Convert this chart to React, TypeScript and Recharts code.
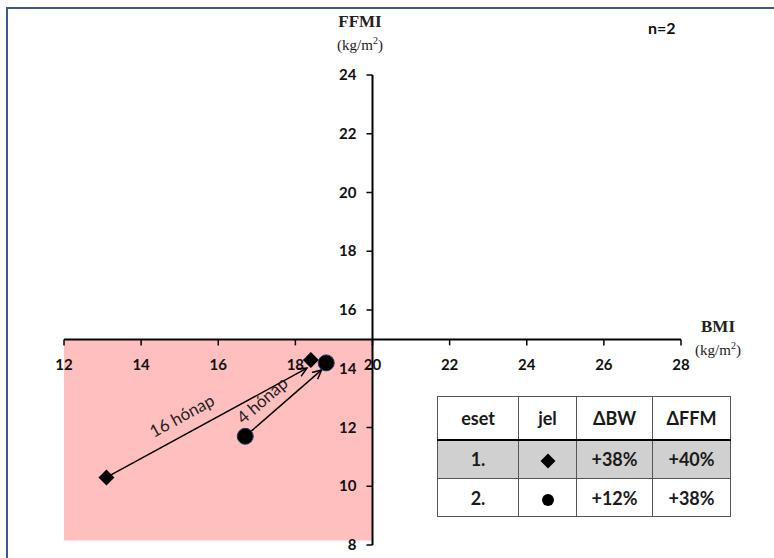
import React from 'react';
import {
  ScatterChart,
  Scatter,
  XAxis,
  YAxis,
  ReferenceLine,
  ReferenceArea,
} from 'recharts';

// tengelyek
const xTicks = [12, 14, 16, 18, 20, 22, 24, 26, 28];
const yTicks = [8, 10, 12, 14, 16, 18, 20, 22, 24];

// esetek: kiinduló és végpont (BMI, FFMI)
const case1 = [
  { x: 13.1, y: 10.3 },
  { x: 18.4, y: 14.3 },
];
const case2 = [
  { x: 16.7, y: 11.7 },
  { x: 18.8, y: 14.2 },
];

// nyilak a kezdőponttól a végpont felé
const arrowLabels = ['16 hónap', '4 hónap'];
const arrowFrom = [
  { x: 13.1, y: 10.3 },
  { x: 16.7, y: 11.7 },
];
const arrowTo = [
  { x: 18.3, y: 14.02 },
  { x: 18.68, y: 13.96 },
];

// táblázat
const tableHeader = ['eset', 'jel', 'ΔBW', 'ΔFFM'];
const tableCase = ['1.', '2.'];
const tableSymbol = ['diamond', 'circle'];
const tableBW = ['+38%', '+12%'];
const tableFFM = ['+40%', '+38%'];

const W = 774;
const H = 558;
const PLOT = { left: 64, top: 75, right: 681, bottom: 545 };
const X_AXIS_H = 13;
const Y_AXIS_W = 30;
const M = { top: PLOT.top, right: W - PLOT.right, bottom: H - PLOT.bottom - X_AXIS_H, left: PLOT.left - Y_AXIS_W };
const AXIS_X = PLOT.left + ((20 - 12) / 16) * (PLOT.right - PLOT.left);
const AXIS_Y = PLOT.top + ((24 - 15) / 16) * (PLOT.bottom - PLOT.top);

const tickFont = { fontFamily: 'Lato, "Open Sans", sans-serif', fontWeight: 700, fontSize: 15, fill: '#111' };

const XTick = (props: any) => {
  const { x, payload } = props;
  return (
    <g>
      <line x1={x} x2={x} y1={AXIS_Y} y2={AXIS_Y + 6} stroke="#000" strokeWidth={1.5} />
      <text x={x} y={AXIS_Y + 31} textAnchor="middle" {...tickFont}>
        {payload.value}
      </text>
    </g>
  );
};

const YTick = (props: any) => {
  const { y, payload } = props;
  return (
    <g>
      <line x1={AXIS_X - 6} x2={AXIS_X} y1={y} y2={y} stroke="#000" strokeWidth={1.5} />
      <text x={AXIS_X - 16} y={y + 5} textAnchor="end" {...tickFont}>
        {payload.value}
      </text>
    </g>
  );
};

const Diamond = (props: any) => {
  const { cx, cy } = props;
  const r = 8;
  return <polygon points={`${cx},${cy - r} ${cx + r},${cy} ${cx},${cy + r} ${cx - r},${cy}`} fill="#000" />;
};

const Dot = (props: any) => {
  const { cx, cy } = props;
  return <circle cx={cx} cy={cy} r={8} fill="#000" stroke="#1f3864" strokeWidth={1} />;
};

const makeArrow = (label: string, t: number, off: number) => (props: any) => {
  const { x1, y1, x2, y2 } = props;
  const ang = Math.atan2(y2 - y1, x2 - x1);
  const len = 10;
  const spread = 0.45;
  const ax1 = x2 - len * Math.cos(ang - spread);
  const ay1 = y2 - len * Math.sin(ang - spread);
  const ax2 = x2 - len * Math.cos(ang + spread);
  const ay2 = y2 - len * Math.sin(ang + spread);
  const mx = x1 + (x2 - x1) * t;
  const my = y1 + (y2 - y1) * t;
  const lx = mx + off * Math.sin(ang);
  const ly = my - off * Math.cos(ang);
  const deg = (ang * 180) / Math.PI;
  return (
    <g>
      <line x1={x1} y1={y1} x2={x2} y2={y2} stroke="#000" strokeWidth={1.5} />
      <polyline points={`${ax1},${ay1} ${x2},${y2} ${ax2},${ay2}`} fill="none" stroke="#000" strokeWidth={1.5} />
      <text
        x={lx}
        y={ly}
        textAnchor="middle"
        transform={`rotate(${deg} ${lx} ${ly})`}
        fontFamily='Lato, "Open Sans", sans-serif'
        fontSize={17}
        fill="#222"
      >
        {label}
      </text>
    </g>
  );
};

const SymbolIcon = ({ kind }: { kind: string }) =>
  kind === 'diamond' ? (
    <svg width={18} height={18} style={{ verticalAlign: 'middle' }}>
      <polygon points="9,1.5 16.5,9 9,16.5 1.5,9" fill="#000" />
    </svg>
  ) : (
    <svg width={14} height={14} style={{ verticalAlign: 'middle' }}>
      <circle cx={7} cy={7} r={6} fill="#000" />
    </svg>
  );

export default function App() {
  const colW = [80, 57, 75, 77];
  const cell = (i: number, extra: React.CSSProperties = {}): React.CSSProperties => ({
    width: colW[i],
    border: '1px solid #555',
    textAlign: 'center',
    padding: 0,
    ...extra,
  });

  return (
    <div style={{ position: 'absolute', left: 0, top: 0, width: W, height: H, background: '#fff', overflow: 'hidden' }}>
      <div
        style={{
          position: 'absolute',
          left: 6,
          top: 7,
          width: W,
          height: H,
          borderLeft: '2px solid #3e5a8c',
          borderTop: '2px solid #3e5a8c',
        }}
      />
      <ScatterChart width={W} height={H} margin={M} style={{ position: 'absolute', left: 0, top: 0 }}>
        <XAxis
          type="number"
          dataKey="x"
          domain={[12, 28]}
          ticks={xTicks}
          interval={0}
          height={X_AXIS_H}
          axisLine={false}
          tickLine={false}
          tick={XTick}
          allowDataOverflow
        />
        <YAxis
          type="number"
          dataKey="y"
          domain={[8, 24]}
          ticks={yTicks}
          interval={0}
          width={Y_AXIS_W}
          axisLine={false}
          tickLine={false}
          tick={YTick}
          allowDataOverflow
        />
        <ReferenceArea x1={12} x2={20} y1={8.15} y2={15} fill="#ffbfbf" fillOpacity={1} stroke="none" />
        <ReferenceLine x={20} stroke="#000" strokeWidth={2} />
        <ReferenceLine y={15} stroke="#000" strokeWidth={2} />
        {arrowLabels.map((label, i) => (
          <ReferenceLine
            key={label}
            segment={[arrowFrom[i], arrowTo[i]]}
            shape={makeArrow(label, i === 0 ? 0.42 : 0.36, i === 0 ? 12 : 10)}
          />
        ))}
        <Scatter data={case1} shape={Diamond} isAnimationActive={false} />
        <Scatter data={case2} shape={Dot} isAnimationActive={false} />
      </ScatterChart>

      <div style={{ position: 'absolute', left: 300, top: 12, width: 120, textAlign: 'center', fontFamily: '"Liberation Serif", serif', color: '#222' }}>
        <div style={{ fontWeight: 700, fontSize: 17, lineHeight: '20px' }}>FFMI</div>
        <div style={{ fontSize: 15, lineHeight: '18px' }}>
          (kg/m<sup style={{ fontSize: 10 }}>2</sup>)
        </div>
      </div>
      <div style={{ position: 'absolute', left: 658, top: 317, width: 120, textAlign: 'center', fontFamily: '"Liberation Serif", serif', color: '#222' }}>
        <div style={{ fontWeight: 700, fontSize: 17, lineHeight: '20px' }}>BMI</div>
        <div style={{ fontSize: 15, lineHeight: '18px' }}>
          (kg/m<sup style={{ fontSize: 10 }}>2</sup>)
        </div>
      </div>
      <div style={{ position: 'absolute', left: 648, top: 18, fontFamily: 'Lato, sans-serif', fontWeight: 700, fontSize: 16, color: '#111' }}>
        n=2
      </div>

      <table
        style={{
          position: 'absolute',
          left: 437,
          top: 396,
          borderCollapse: 'collapse',
          fontFamily: 'Lato, "Open Sans", sans-serif',
          fontWeight: 700,
          fontSize: 18,
          color: '#1a1a1a',
          background: '#fff',
        }}
      >
        <tbody>
          <tr style={{ height: 43 }}>
            {tableHeader.map((h, i) => (
              <td key={h} style={cell(i, { borderBottom: '2.5px solid #000' })}>
                {h}
              </td>
            ))}
          </tr>
          {tableCase.map((c, r) => (
            <tr key={c} style={{ height: r === 0 ? 39 : 38, background: r === 0 ? '#d0d0d0' : '#fff' }}>
              <td style={cell(0)}>{c}</td>
              <td style={cell(1)}>
                <SymbolIcon kind={tableSymbol[r]} />
              </td>
              <td style={cell(2)}>{tableBW[r]}</td>
              <td style={cell(3)}>{tableFFM[r]}</td>
            </tr>
          ))}
        </tbody>
      </table>
    </div>
  );
}
